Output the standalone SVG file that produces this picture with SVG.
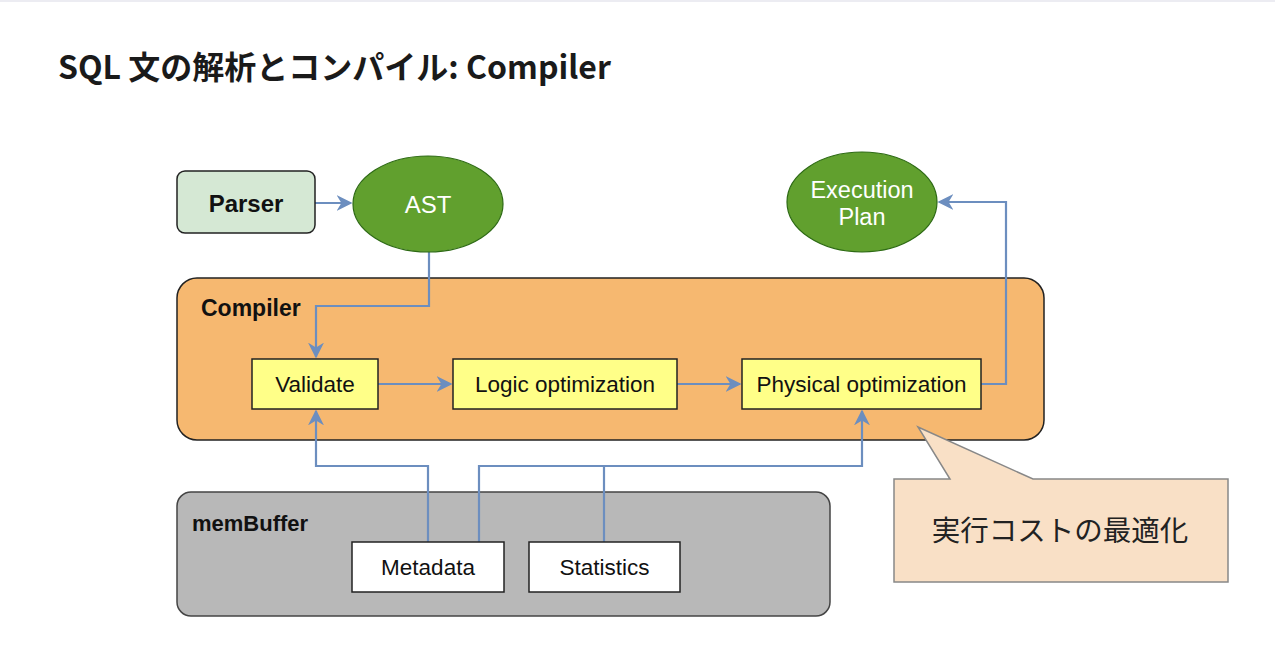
<svg xmlns="http://www.w3.org/2000/svg" width="1275" height="664" viewBox="0 0 1275 664">
<defs>
<style>
.lbl{font-family:"Liberation Sans",Arial,sans-serif;font-size:22.5px;fill:#111;text-anchor:middle;dominant-baseline:central}
.wlbl{font-family:"Liberation Sans",Arial,sans-serif;font-size:23.5px;fill:#fff;text-anchor:middle;dominant-baseline:central}
.box{fill:#ffff88;stroke:#222;stroke-width:1.5}
.wbox{fill:#fff;stroke:#222;stroke-width:1.5}
.ell{fill:#61a02e;stroke:#2d6a14;stroke-width:1.2}
.conn{fill:none;stroke:#6c8ebf;stroke-width:2.2}
</style>
<marker id="arrb" viewBox="0 0 10 10" refX="9" refY="5" markerWidth="16" markerHeight="16" markerUnits="userSpaceOnUse" orient="auto">
<path d="M0,0 L10,5 L0,10 L3,5 Z" fill="#6c8ebf"/>
</marker>
</defs>
<rect width="1275" height="664" fill="#fff"/>
<rect x="0" y="0" width="1275" height="2" fill="#ececf2"/>
<text x="58" y="79" font-family="'Noto Sans CJK JP','Noto Sans',sans-serif" font-size="32" font-weight="bold" fill="#1a1a1a">SQL 文の解析とコンパイル: Compiler</text>

<g id="compiler">
<rect x="177" y="278" width="867" height="162" rx="20" fill="#f6b870" stroke="#222" stroke-width="1.5"/>
<text x="201" y="308" font-family="'Liberation Sans',Arial,sans-serif" font-size="23" font-weight="bold" fill="#111" dominant-baseline="central">Compiler</text>
</g>
<g id="membuffer">
<rect x="177" y="492" width="653" height="124" rx="14" fill="#b8b8b8" stroke="#444" stroke-width="1.5"/>
<text x="192" y="523" font-family="'Liberation Sans',Arial,sans-serif" font-size="22" font-weight="bold" fill="#111" dominant-baseline="central">memBuffer</text>
</g>

<g id="connectors">
<path class="conn" d="M315,203 H351" marker-end="url(#arrb)"/>
<path class="conn" d="M429,252 V306 H316 V357" marker-end="url(#arrb)"/>
<path class="conn" d="M378,384 H451" marker-end="url(#arrb)"/>
<path class="conn" d="M677,384 H740" marker-end="url(#arrb)"/>
<path class="conn" d="M981,384 H1006 V202 H939" marker-end="url(#arrb)"/>
<path class="conn" d="M428,542 V466 H316 V411" marker-end="url(#arrb)"/>
<path class="conn" d="M479,542 V466 H862 V411" marker-end="url(#arrb)"/>
<path class="conn" d="M604,542 V466"/>
</g>

<g id="parser">
<rect x="177" y="171" width="138" height="62" rx="8" fill="#d5e8d4" stroke="#222" stroke-width="1.5"/>
<text x="246" y="203" class="lbl" style="font-size:24px;font-weight:bold">Parser</text>
</g>
<g id="ast">
<ellipse class="ell" cx="428" cy="204" rx="75" ry="48"/>
<text x="428" y="204" class="wlbl" style="font-size:24px">AST</text>
</g>
<g id="execplan">
<ellipse class="ell" cx="862" cy="202" rx="75" ry="50"/>
<text x="862" y="190" class="wlbl">Execution</text>
<text x="862" y="217" class="wlbl">Plan</text>
</g>
<g id="validate">
<rect class="box" x="252" y="359" width="126" height="50"/>
<text x="315" y="384" class="lbl">Validate</text>
</g>
<g id="logic">
<rect class="box" x="453" y="359" width="224" height="50"/>
<text x="565" y="384" class="lbl">Logic optimization</text>
</g>
<g id="physical">
<rect class="box" x="742" y="359" width="239" height="50"/>
<text x="861.5" y="384" class="lbl">Physical optimization</text>
</g>
<g id="metadata">
<rect class="wbox" x="352" y="542" width="152" height="50"/>
<text x="428" y="567" class="lbl">Metadata</text>
</g>
<g id="statistics">
<rect class="wbox" x="529" y="542" width="151" height="50"/>
<text x="604.5" y="567" class="lbl">Statistics</text>
</g>
<g id="callout">
<path d="M894,479 H950 L918,427 L1033,479 H1228 V582 H894 Z" fill="#f9e0c6" stroke="#888" stroke-width="1.5"/>
<text x="1060" y="528" font-family="'Noto Sans CJK JP',sans-serif" font-size="28.5" fill="#222" text-anchor="middle" dominant-baseline="central">実行コストの最適化</text>
</g>
</svg>
